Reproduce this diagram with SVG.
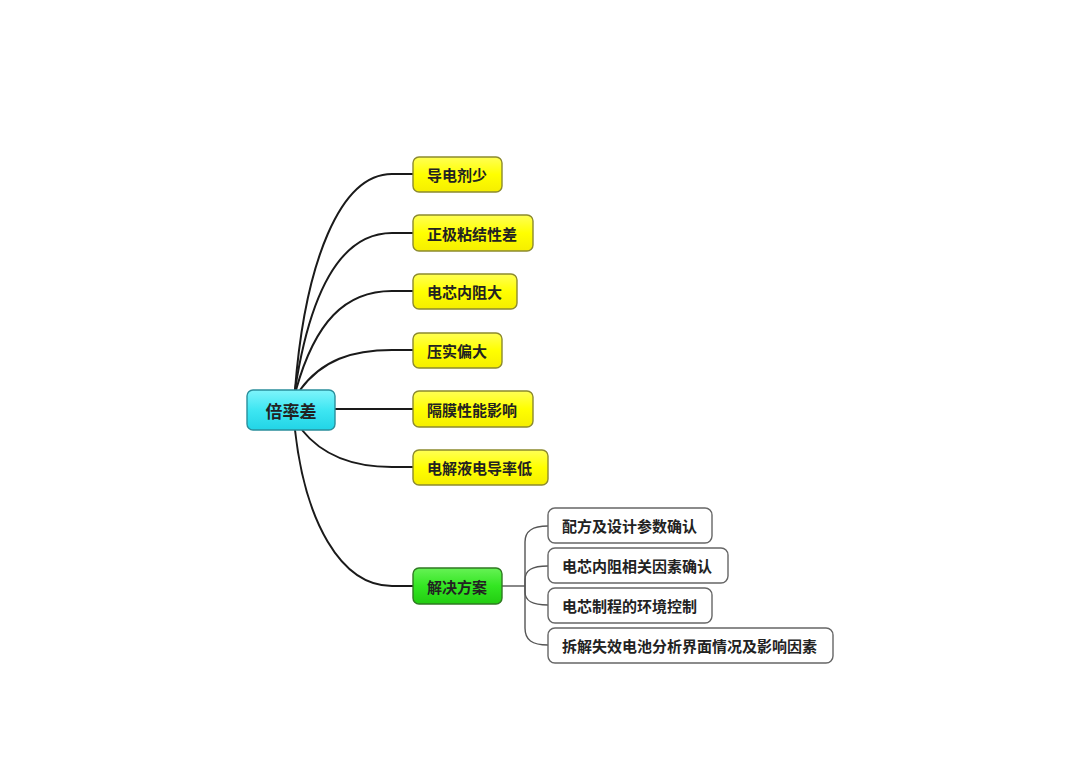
<svg xmlns="http://www.w3.org/2000/svg" width="1080" height="764" viewBox="0 0 1080 764">
<defs>
<linearGradient id="gY" x1="0" y1="0" x2="0" y2="1"><stop offset="0" stop-color="#ffff55"/><stop offset="0.5" stop-color="#ffff00"/><stop offset="1" stop-color="#f5ee00"/></linearGradient>
<linearGradient id="gC" x1="0" y1="0" x2="0" y2="1"><stop offset="0" stop-color="#7ff4fb"/><stop offset="0.5" stop-color="#3ee6f2"/><stop offset="1" stop-color="#22d4e6"/></linearGradient>
<linearGradient id="gG" x1="0" y1="0" x2="0" y2="1"><stop offset="0" stop-color="#66f255"/><stop offset="0.5" stop-color="#33e622"/><stop offset="1" stop-color="#22cc11"/></linearGradient>
<style>
.t{font-family:"Noto Sans CJK SC","Noto Sans",sans-serif;font-weight:bold;font-size:15px;fill:#222;dominant-baseline:central}
.y{fill:url(#gY);stroke:#8c8a2e;stroke-width:1.4}
.c{fill:url(#gC);stroke:#2a8f9c;stroke-width:1.4}
.g{fill:url(#gG);stroke:#2f7a22;stroke-width:1.4}
.w{fill:#fff;stroke:#666;stroke-width:1.4}
.ln{fill:none;stroke:#1a1a1a;stroke-width:2}
.ls{fill:none;stroke:#555;stroke-width:1.4}
</style>
</defs>
<rect width="1080" height="764" fill="#fff"/>
<g id="connectors">
<path class="ln" d="M295,390 C305,262 340,174 392,174 H413"/>
<path class="ln" d="M295,390 C310,292 340,233 392,233 H413"/>
<path class="ln" d="M296,390 C315,322 345,291 392,291 H413"/>
<path class="ln" d="M300,390 C322,360 352,350 392,350 H413"/>
<path class="ln" d="M335,409 H413"/>
<path class="ln" d="M302,430 C322,455 352,467 392,467 H413"/>
<path class="ln" d="M295,430 C305,520 340,586 392,586 H413"/>
<path class="ls" d="M502,586 H525"/>
<path class="ls" d="M525,586 V542 C525,531 532,526 548,526"/>
<path class="ls" d="M525,586 V580 C525,570 532,566 548,566"/>
<path class="ls" d="M525,586 V592 C525,601 532,605 548,605"/>
<path class="ls" d="M525,586 V628 C525,640 532,645 548,645"/>
</g>
<g id="root"><rect class="c" x="247" y="390" width="88" height="40" rx="6"/><text class="t" x="291" y="410" text-anchor="middle" style="font-size:17px">倍率差</text></g>
<g id="n1"><rect class="y" x="413" y="157" width="89" height="35" rx="6"/><text class="t" x="427" y="174.5">导电剂少</text></g>
<g id="n2"><rect class="y" x="413" y="215" width="120" height="36" rx="6"/><text class="t" x="427" y="233">正极粘结性差</text></g>
<g id="n3"><rect class="y" x="413" y="274" width="104" height="35" rx="6"/><text class="t" x="427" y="291.5">电芯内阻大</text></g>
<g id="n4"><rect class="y" x="413" y="333" width="89" height="35" rx="6"/><text class="t" x="427" y="350.5">压实偏大</text></g>
<g id="n5"><rect class="y" x="413" y="391" width="120" height="36" rx="6"/><text class="t" x="427" y="409">隔膜性能影响</text></g>
<g id="n6"><rect class="y" x="413" y="450" width="135" height="35" rx="6"/><text class="t" x="427" y="467.5">电解液电导率低</text></g>
<g id="n7"><rect class="g" x="413" y="568" width="89" height="36" rx="6"/><text class="t" x="427" y="586">解决方案</text></g>
<g id="s1"><rect class="w" x="548" y="508" width="164" height="35" rx="7"/><text class="t" x="562" y="525.5">配方及设计参数确认</text></g>
<g id="s2"><rect class="w" x="548" y="548" width="180" height="35" rx="7"/><text class="t" x="562" y="565.5">电芯内阻相关因素确认</text></g>
<g id="s3"><rect class="w" x="548" y="588" width="164" height="35" rx="7"/><text class="t" x="562" y="605.5">电芯制程的环境控制</text></g>
<g id="s4"><rect class="w" x="548" y="628" width="285" height="35" rx="7"/><text class="t" x="562" y="645.5">拆解失效电池分析界面情况及影响因素</text></g>
</svg>
